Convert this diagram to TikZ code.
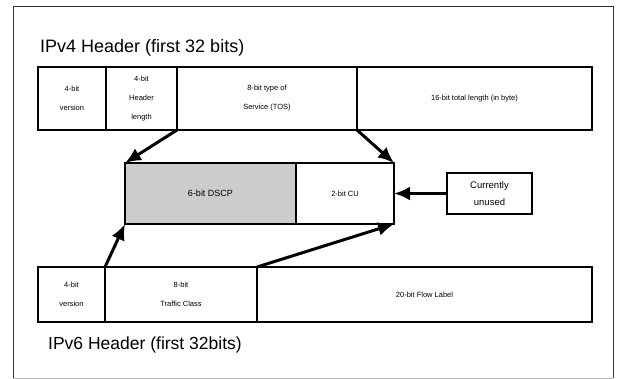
\documentclass[tikz,border=0pt]{standalone}
\usepackage{fontspec}
\setmainfont{Liberation Sans}
\usepackage{tikz}
\usetikzlibrary{positioning,arrows.meta}

\begin{document}
\begin{tikzpicture}[x=1pt, y=-1pt,
    cell/.style={rectangle, draw, line width=1.1pt, outer sep=0pt, inner sep=1pt, align=center, font=\fontsize{7.5}{19}\selectfont},
    title/.style={anchor=west, inner sep=0pt, font=\fontsize{18}{20}\selectfont},
    frame/.style={draw, line width=2pt},
    line/.style={draw, line width=3pt, -{Latex[length=16pt,width=14pt]}}]

    \useasboundingbox (0,0) rectangle (620,379);
    % outer border
    \draw [black!80, line width=0.8pt] (13,378) -- (13,6) -- (613,6) -- (613,378);
    \draw [black!30, line width=0.8pt] (13,378) -- (613,378);

    % IPv4 header
    \node [title] (v4title) at (40,48) {IPv4 Header (first 32 bits)};
    \node [cell, minimum width=68pt, minimum height=63pt] (v4ver) at (72,98.5) {4-bit\\version};
    \node [cell, minimum width=71pt, minimum height=63pt, right=0pt of v4ver] (v4hlen) {4-bit\\Header\\length};
    \node [cell, minimum width=180pt, minimum height=63pt, right=0pt of v4hlen] (v4tos) {8-bit type of\\Service (TOS)};
    \node [cell, minimum width=235pt, minimum height=63pt, right=0pt of v4tos] (v4len) {16-bit total length (in byte)};
    \path [frame] (v4ver.north west) rectangle (v4len.south east);

    % DS field
    \node [cell, fill=black!20, minimum width=171pt, minimum height=61pt, font=\fontsize{9}{11}\selectfont] (dscp) at (210.5,193.5) {6-bit DSCP};
    \node [cell, minimum width=98pt, minimum height=61pt, right=0pt of dscp] (cu) {2-bit CU};
    \path [frame, line width=2.4pt] (dscp.north west) rectangle (cu.south east);
    \node [cell, minimum width=85pt, minimum height=41pt, font=\fontsize{9.5}{17}\selectfont] (unused) at (489.5,193.5) {Currently\\unused};

    % IPv6 header
    \node [cell, minimum width=67pt, minimum height=55pt] (v6ver) at (71.5,294.5) {4-bit\\version};
    \node [cell, minimum width=152pt, minimum height=55pt, right=0pt of v6ver] (v6tc) {8-bit\\Traffic Class};
    \node [cell, minimum width=335pt, minimum height=55pt, right=0pt of v6tc] (v6flow) {20-bit Flow Label};
    \path [frame] (v6ver.north west) rectangle (v6flow.south east);
    \node [title, font=\fontsize{17.5}{20}\selectfont] (v6title) at (48,345) {IPv6 Header (first 32bits)};

    % Paths
    \path [line] (v4hlen.south east) -- (dscp.north west);
    \path [line] (v4tos.south east) -- (cu.north east);
    \path [line] (v6ver.north east) -- (dscp.south west);
    \path [line] (v6tc.north east) -- (cu.south east);
    \path [line] (unused) -- (cu);

\end{tikzpicture}
\end{document}
